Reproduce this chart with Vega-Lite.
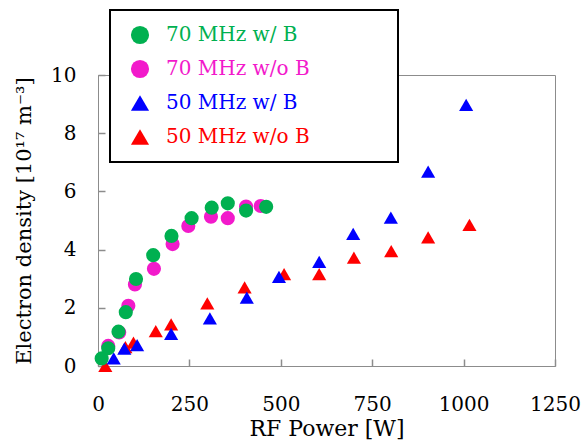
{
  "$schema": "https://vega.github.io/schema/vega-lite/v6.json",
  "width": 457,
  "height": 291,
  "autosize": "none",
  "padding": {"left": 98, "top": 75, "right": 28, "bottom": 77},
  "background": "white",
  "config": {
    "font": "DejaVu Serif",
    "view": {"stroke": "#8c8c8c", "strokeWidth": 1},
    "legend": {"strokeWidth": 2}
  },
  "data": {
    "values": [
      {"series": "50 MHz w/o B", "power": 20, "density": 0.0},
      {"series": "50 MHz w/o B", "power": 75, "density": 0.65},
      {"series": "50 MHz w/o B", "power": 97, "density": 0.8},
      {"series": "50 MHz w/o B", "power": 158, "density": 1.2},
      {"series": "50 MHz w/o B", "power": 200, "density": 1.43},
      {"series": "50 MHz w/o B", "power": 299, "density": 2.15},
      {"series": "50 MHz w/o B", "power": 401, "density": 2.7},
      {"series": "50 MHz w/o B", "power": 509, "density": 3.16},
      {"series": "50 MHz w/o B", "power": 605, "density": 3.16},
      {"series": "50 MHz w/o B", "power": 700, "density": 3.72},
      {"series": "50 MHz w/o B", "power": 802, "density": 3.95},
      {"series": "50 MHz w/o B", "power": 903, "density": 4.42},
      {"series": "50 MHz w/o B", "power": 1016, "density": 4.85},
      {"series": "50 MHz w/ B", "power": 43, "density": 0.26},
      {"series": "50 MHz w/ B", "power": 72, "density": 0.6},
      {"series": "50 MHz w/ B", "power": 107, "density": 0.72},
      {"series": "50 MHz w/ B", "power": 200, "density": 1.1},
      {"series": "50 MHz w/ B", "power": 306, "density": 1.64},
      {"series": "50 MHz w/ B", "power": 407, "density": 2.35},
      {"series": "50 MHz w/ B", "power": 495, "density": 3.06},
      {"series": "50 MHz w/ B", "power": 605, "density": 3.58},
      {"series": "50 MHz w/ B", "power": 698, "density": 4.54},
      {"series": "50 MHz w/ B", "power": 801, "density": 5.1},
      {"series": "50 MHz w/ B", "power": 903, "density": 6.68},
      {"series": "50 MHz w/ B", "power": 1007, "density": 8.97},
      {"series": "70 MHz w/o B", "power": 28, "density": 0.69},
      {"series": "70 MHz w/o B", "power": 58, "density": 1.15},
      {"series": "70 MHz w/o B", "power": 83, "density": 2.07},
      {"series": "70 MHz w/o B", "power": 101, "density": 2.8},
      {"series": "70 MHz w/o B", "power": 153, "density": 3.34},
      {"series": "70 MHz w/o B", "power": 204, "density": 4.19},
      {"series": "70 MHz w/o B", "power": 247, "density": 4.81},
      {"series": "70 MHz w/o B", "power": 309, "density": 5.13},
      {"series": "70 MHz w/o B", "power": 355, "density": 5.08},
      {"series": "70 MHz w/o B", "power": 405, "density": 5.48},
      {"series": "70 MHz w/o B", "power": 445, "density": 5.5},
      {"series": "70 MHz w/ B", "power": 10, "density": 0.26},
      {"series": "70 MHz w/ B", "power": 28, "density": 0.61},
      {"series": "70 MHz w/ B", "power": 56, "density": 1.18},
      {"series": "70 MHz w/ B", "power": 76, "density": 1.85},
      {"series": "70 MHz w/ B", "power": 104, "density": 2.99},
      {"series": "70 MHz w/ B", "power": 151, "density": 3.81},
      {"series": "70 MHz w/ B", "power": 201, "density": 4.47},
      {"series": "70 MHz w/ B", "power": 256, "density": 5.08},
      {"series": "70 MHz w/ B", "power": 311, "density": 5.44},
      {"series": "70 MHz w/ B", "power": 355, "density": 5.59},
      {"series": "70 MHz w/ B", "power": 405, "density": 5.34},
      {"series": "70 MHz w/ B", "power": 460, "density": 5.47}
    ]
  },
  "mark": {"type": "point", "filled": true, "opacity": 1, "size": 200, "clip": false},
  "encoding": {
    "x": {
      "field": "power", "type": "quantitative",
      "scale": {"domain": [0, 1250], "nice": false},
      "axis": {
        "title": "RF Power [W]", "values": [0, 250, 500, 750, 1000, 1250], "format": "d",
        "labelOverlap": false, "labelFlush": false,
        "grid": false, "domainColor": "#8c8c8c", "tickColor": "#8c8c8c", "tickWidth": 1.5,
        "tickSize": -7, "labelPadding": 35, "labelFontSize": 20, "labelColor": "black",
        "titleFontSize": 22, "titleFontWeight": "normal", "titleColor": "black",
        "titlePadding": 4
      }
    },
    "y": {
      "field": "density", "type": "quantitative",
      "scale": {"domain": [0, 10], "nice": false},
      "axis": {
        "title": "Electron density [10¹⁷ m⁻³]", "values": [0, 2, 4, 6, 8, 10],
        "labelOverlap": false, "labelFlush": false,
        "grid": false, "domainColor": "#8c8c8c", "tickColor": "#8c8c8c", "tickWidth": 1.5,
        "tickSize": -7, "labelPadding": 29, "labelFontSize": 20, "labelColor": "black",
        "titleFontSize": 21, "titleFontWeight": "normal", "titleColor": "black",
        "titlePadding": 16
      }
    },
    "color": {
      "field": "series", "type": "nominal",
      "scale": {
        "domain": ["70 MHz w/ B", "70 MHz w/o B", "50 MHz w/ B", "50 MHz w/o B"],
        "range": ["#00B050", "#F21ACB", "#0000FF", "#FF0000"]
      },
      "legend": {
        "orient": "none", "legendX": 12, "legendY": -65, "title": null,
        "padding": 15, "rowPadding": 14, "strokeColor": "black",
        "fillColor": "white", "labelFontSize": 20,
        "symbolSize": 330, "symbolOffset": 5, "labelOffset": 16, "labelLimit": 400,
        "labelColor": {"expr": "scale('color', datum.value)"},
        "labelExpr": "datum.label + '\u2800\u2800\u2800\u2800\u2800'"
      }
    },
    "shape": {
      "field": "series", "type": "nominal",
      "scale": {
        "domain": ["70 MHz w/ B", "70 MHz w/o B", "50 MHz w/ B", "50 MHz w/o B"],
        "range": ["circle", "circle", "triangle-up", "triangle-up"]
      }
    }
  }
}
